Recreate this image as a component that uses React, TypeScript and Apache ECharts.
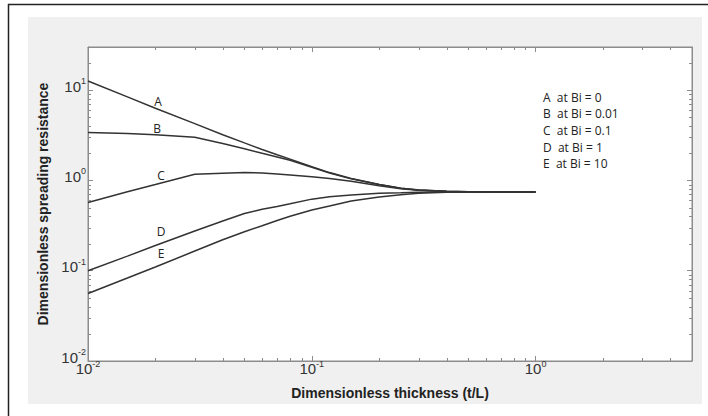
import React, { useEffect, useRef } from 'react';
import * as echarts from 'echarts';

// ---- data ----
const thickness = [0.01, 0.015, 0.02, 0.03, 0.04, 0.05, 0.06, 0.07, 0.08, 0.1, 0.12, 0.15, 0.2, 0.25, 0.3, 0.4, 0.5, 0.7, 1.0];
const curveA = [12.6, 8.4, 6.3, 4.25, 3.2, 2.6, 2.2, 1.92, 1.72, 1.42, 1.22, 1.05, 0.9, 0.82, 0.785, 0.76, 0.75, 0.745, 0.745];
const curveB = [3.4, 3.3, 3.2, 3.0, 2.56, 2.24, 2.0, 1.82, 1.67, 1.4, 1.21, 1.04, 0.9, 0.82, 0.785, 0.76, 0.75, 0.745, 0.745];
const curveC = [0.57, 0.75, 0.9, 1.17, 1.2, 1.22, 1.21, 1.18, 1.15, 1.1, 1.05, 0.98, 0.87, 0.81, 0.78, 0.755, 0.748, 0.745, 0.745];
const curveD = [0.1, 0.145, 0.19, 0.275, 0.355, 0.43, 0.48, 0.515, 0.55, 0.62, 0.66, 0.69, 0.72, 0.73, 0.74, 0.745, 0.745, 0.745, 0.745];
const curveE = [0.056, 0.083, 0.11, 0.165, 0.22, 0.27, 0.315, 0.36, 0.4, 0.47, 0.52, 0.59, 0.655, 0.695, 0.72, 0.737, 0.745, 0.745, 0.745];
const curveNames = ['A', 'B', 'C', 'D', 'E'];
const legendEntries = ['A  at Bi = 0', 'B  at Bi = 0.01', 'C  at Bi = 0.1', 'D  at Bi = 1', 'E  at Bi = 10'];
const xMinorTicks = [0.02, 0.03, 0.04, 0.05, 0.06, 0.07, 0.08, 0.09, 0.2, 0.3, 0.4, 0.5, 0.6, 0.7, 0.8, 0.9, 2, 3, 4];
const yMinorTicks = [0.02, 0.03, 0.04, 0.05, 0.06, 0.07, 0.08, 0.09, 0.2, 0.3, 0.4, 0.5, 0.6, 0.7, 0.8, 0.9, 2, 3, 4, 5, 6, 7, 8, 9, 20];
const xRange = [0.01, 5];
const yRange = [0.01, 30];
const xTitle = 'Dimensionless thickness (t/L)';
const yTitle = 'Dimensionless spreading resistance';

const curves = [curveA, curveB, curveC, curveD, curveE];
// pixel anchors for the curve letters
const curveLabelPos = [
  [158, 101],
  [157, 128],
  [161, 175],
  [161, 231],
  [161, 253],
];

const AXIS_GRAY = '#8c8c8c';
const TEXT_DARK = '#333';
const SANS = '"Liberation Sans", Arial, sans-serif';
const HUMAN = '"Open Sans", "Noto Sans", sans-serif';

const fmtPow = (v: number) => {
  const e = Math.log10(v);
  const r = Math.round(e);
  if (Math.abs(e - r) > 1e-6) return '';
  return `{b|10}{s|${r}}`;
};

const richLabels = {
  b: { fontSize: 15, lineHeight: 15, fontFamily: SANS, color: TEXT_DARK, verticalAlign: 'bottom', padding: [0, 0, 4, 0] },
  s: { fontSize: 9, lineHeight: 9, fontFamily: SANS, color: TEXT_DARK, verticalAlign: 'bottom', padding: [0, 0, 12, 0] },
};

export default function App() {
  const ref = useRef<HTMLDivElement>(null);

  useEffect(() => {
    if (!ref.current) return;
    const chart = echarts.init(ref.current, undefined, { renderer: 'svg' });

    const minorData: number[][] = [
      ...xMinorTicks.map((v) => [v, 1, 0]),
      ...yMinorTicks.map((v) => [0.1, v, 1]),
    ];

    const lineSeries = curves.map((c, k) => ({
      type: 'line',
      name: curveNames[k],
      data: thickness.map((t, i) => [t, c[i]]),
      showSymbol: false,
      symbol: 'none',
      lineStyle: { color: '#333', width: 1.5 },
      silent: true,
      z: 3,
    }));

    const mkAxisCommon = () => ({
      axisLine: { show: true, lineStyle: { color: AXIS_GRAY, width: 1 } },
      axisTick: { show: true, inside: true, length: 5, lineStyle: { color: AXIS_GRAY } },
      splitLine: { show: false },
    });

    const option: any = {
      animation: false,
      backgroundColor: '#fff',
      grid: {
        left: 88,
        top: 47,
        right: 16,
        bottom: 55,
        show: true,
        backgroundColor: '#fff',
        borderColor: AXIS_GRAY,
        borderWidth: 1,
        z: 0,
      },
      xAxis: [
        {
          type: 'log',
          logBase: 10,
          min: xRange[0],
          max: xRange[1],
          position: 'bottom',
          ...mkAxisCommon(),
          axisLabel: { formatter: fmtPow, rich: richLabels, margin: 4, showMaxLabel: false },
          name: xTitle,
          nameLocation: 'middle',
          nameGap: 25,
          nameTextStyle: { fontFamily: SANS, fontWeight: 'bold', fontSize: 14, color: '#222', verticalAlign: 'top' },
        },
        {
          type: 'log',
          logBase: 10,
          min: xRange[0],
          max: xRange[1],
          position: 'top',
          ...mkAxisCommon(),
          axisLabel: { show: false },
        },
      ],
      yAxis: [
        {
          type: 'log',
          logBase: 10,
          min: yRange[0],
          max: yRange[1],
          position: 'left',
          ...mkAxisCommon(),
          axisLabel: { formatter: fmtPow, rich: richLabels, margin: 2, showMaxLabel: false },
          name: yTitle,
          nameLocation: 'middle',
          nameGap: 37,
          nameTextStyle: { fontFamily: SANS, fontWeight: 'bold', fontSize: 14, color: '#222' },
        },
        {
          type: 'log',
          logBase: 10,
          min: yRange[0],
          max: yRange[1],
          position: 'right',
          ...mkAxisCommon(),
          axisLabel: { show: false },
        },
      ],
      series: [
        ...lineSeries,
        {
          type: 'custom',
          silent: true,
          z: 2,
          data: minorData,
          encode: { x: 0, y: 1 },
          renderItem: (params: any, api: any) => {
            const cs = params.coordSys;
            const kind = api.value(2);
            const p = api.coord([api.value(0), api.value(1)]);
            const st = { stroke: AXIS_GRAY, lineWidth: 1 };
            const L = 3;
            if (kind === 0) {
              const x = Math.round(p[0]) + 0.5;
              return {
                type: 'group',
                children: [
                  { type: 'line', shape: { x1: x, y1: cs.y + cs.height, x2: x, y2: cs.y + cs.height - L }, style: st },
                  { type: 'line', shape: { x1: x, y1: cs.y, x2: x, y2: cs.y + L }, style: st },
                ],
              };
            }
            const y = Math.round(p[1]) + 0.5;
            return {
              type: 'group',
              children: [
                { type: 'line', shape: { x1: cs.x, y1: y, x2: cs.x + L, y2: y }, style: st },
                { type: 'line', shape: { x1: cs.x + cs.width, y1: y, x2: cs.x + cs.width - L, y2: y }, style: st },
              ],
            };
          },
        },
      ],
      graphic: [
        { type: 'rect', z: -10, silent: true, shape: { x: 28, y: 17, width: 674, height: 387 }, style: { fill: '#f0f0f0' } },
        { type: 'line', z: 10, silent: true, shape: { x1: 8.5, y1: 4, x2: 8.5, y2: 416 }, style: { stroke: '#222', lineWidth: 1.5 } },
        { type: 'line', z: 10, silent: true, shape: { x1: 8, y1: 4.5, x2: 708, y2: 4.5 }, style: { stroke: '#222', lineWidth: 1.5 } },
        ...curveNames.map((n, i) => ({
          type: 'text',
          z: 10,
          silent: true,
          x: curveLabelPos[i][0],
          y: curveLabelPos[i][1],
          style: {
            text: n,
            font: `12px ${HUMAN}`,
            fill: '#222',
            textAlign: 'center',
            textVerticalAlign: 'middle',
          },
        })),
        ...legendEntries.map((t, i) => ({
          type: 'text',
          z: 10,
          silent: true,
          x: 543,
          y: 97 + i * 16.7,
          style: {
            text: t,
            font: `12px ${HUMAN}`,
            fill: '#222',
            textAlign: 'left',
            textVerticalAlign: 'middle',
          },
        })),
      ],
    };

    chart.setOption(option);
    return () => chart.dispose();
  }, []);

  return (
    <div
      ref={ref}
      style={{ position: 'fixed', left: 0, top: 0, width: 708, height: 416, background: '#fff' }}
    />
  );
}
